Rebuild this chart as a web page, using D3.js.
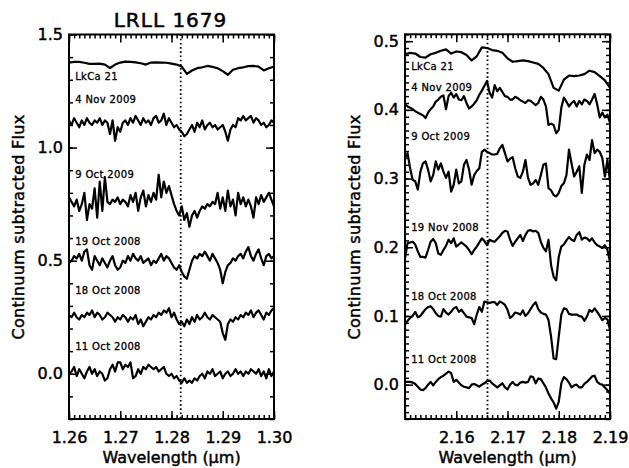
<!DOCTYPE html>
<html><head><meta charset="utf-8">
<script src="https://cdn.jsdelivr.net/npm/d3@7"></script>
<style>body{margin:0;background:#fff} svg{display:block}</style>
</head><body>
<svg id="c" width="629" height="468"></svg>
<script>
// ---------- data ----------
const chartTitle = "LRLL 1679";
const yTitle = "Continuum subtracted Flux";
const xTitle = "Wavelength (\u03bcm)";

// Left panel (J band, Pa beta)
const leftXDomain = [1.26, 1.30];
const leftYDomain = [-0.2, 1.5];
const leftXTicks = [1.26, 1.27, 1.28, 1.29, 1.30];
const leftYTicks = [0.0, 0.5, 1.0, 1.5];
const leftLine = 1.2818;
const leftNames = ["LkCa 21", "4 Nov 2009", "9 Oct 2009", "19 Oct 2008", "18 Oct 2008", "11 Oct 2008"];
const leftLabelY = [1.313, 1.211, 0.881, 0.586, 0.366, 0.119];

const leftLkCa21 = [1.376,1.379,1.379,1.375,1.370,1.370,1.371,1.367,1.352,1.367,1.376,1.380,1.379,1.377,1.373,1.367,1.376,1.377,1.376,1.375,1.371,1.367,1.358,1.326,1.341,1.351,1.355,1.361,1.357,1.351,1.338,1.322,1.344,1.351,1.355,1.360,1.361,1.358,1.341,1.351,1.358];
const left4Nov2009 = [1.12,1.10,1.13,1.11,1.09,1.12,1.10,1.13,1.11,1.10,1.12,1.11,1.13,1.10,1.12,1.11,1.06,1.12,1.03,1.09,1.07,1.11,1.12,1.10,1.13,1.11,1.14,1.12,1.10,1.13,1.11,1.12,1.10,1.13,1.14,1.11,1.12,1.15,1.10,1.13,1.11,1.09,1.10,1.08,1.07,1.05,1.06,1.08,1.10,1.07,1.11,1.09,1.12,1.08,1.10,1.11,1.09,1.10,1.08,1.09,1.10,1.07,1.03,1.08,1.10,1.09,1.13,1.12,1.14,1.12,1.13,1.14,1.11,1.13,1.12,1.10,1.11,1.09,1.10,1.12,1.11];
const left9Oct2009 = [0.78,0.76,0.74,0.77,0.72,0.75,0.80,0.68,0.75,0.73,0.82,0.69,0.85,0.72,0.87,0.76,0.75,0.77,0.76,0.78,0.75,0.77,0.76,0.74,0.79,0.76,0.80,0.72,0.78,0.81,0.74,0.79,0.76,0.80,0.77,0.88,0.78,0.85,0.80,0.83,0.79,0.75,0.72,0.70,0.74,0.68,0.71,0.65,0.70,0.72,0.69,0.72,0.74,0.73,0.75,0.74,0.76,0.75,0.80,0.73,0.78,0.72,0.81,0.74,0.77,0.70,0.80,0.75,0.78,0.74,0.77,0.74,0.69,0.78,0.75,0.79,0.76,0.78,0.80,0.77,0.74];
const left19Oct2008 = [0.49,0.50,0.52,0.51,0.53,0.50,0.54,0.55,0.48,0.46,0.52,0.50,0.48,0.51,0.49,0.47,0.50,0.52,0.48,0.46,0.47,0.50,0.49,0.52,0.50,0.53,0.51,0.50,0.52,0.49,0.50,0.51,0.48,0.50,0.49,0.51,0.53,0.50,0.52,0.51,0.49,0.47,0.46,0.48,0.45,0.43,0.42,0.46,0.50,0.52,0.51,0.53,0.52,0.54,0.52,0.50,0.53,0.51,0.49,0.46,0.40,0.45,0.48,0.49,0.51,0.50,0.52,0.53,0.51,0.54,0.56,0.52,0.50,0.53,0.55,0.51,0.48,0.52,0.53,0.51,0.52];
const left18Oct2008 = [0.26,0.25,0.27,0.25,0.24,0.26,0.25,0.27,0.26,0.28,0.25,0.27,0.26,0.24,0.25,0.27,0.26,0.25,0.23,0.25,0.24,0.26,0.25,0.23,0.25,0.24,0.26,0.22,0.24,0.21,0.23,0.25,0.24,0.26,0.25,0.27,0.26,0.28,0.27,0.29,0.25,0.27,0.24,0.22,0.23,0.21,0.24,0.22,0.25,0.23,0.26,0.24,0.25,0.27,0.25,0.24,0.26,0.25,0.24,0.23,0.18,0.15,0.22,0.24,0.23,0.25,0.24,0.26,0.25,0.27,0.26,0.28,0.25,0.27,0.28,0.26,0.24,0.27,0.26,0.28,0.29];
const left11Oct2008 = [0.00,0.01,0.03,-0.01,0.02,0.00,-0.02,0.01,0.03,0.00,0.02,-0.01,0.01,0.00,-0.03,-0.02,0.02,0.04,0.01,0.05,0.05,0.02,0.04,0.03,0.05,-0.02,-0.01,0.02,0.00,0.03,0.02,0.04,0.03,0.02,0.03,0.01,0.02,0.03,0.00,-0.01,0.00,-0.02,-0.01,-0.03,-0.04,-0.02,-0.04,-0.03,-0.04,-0.02,-0.03,-0.01,0.00,-0.02,0.01,0.00,0.02,-0.01,0.00,0.01,-0.02,0.00,0.01,-0.01,0.00,0.02,0.00,0.01,-0.01,0.01,0.00,0.02,0.01,0.00,0.02,-0.01,0.01,-0.02,0.02,-0.01,0.01];

// Right panel (K band, Br gamma)
const rightXDomain = [2.15, 2.19];
const rightYDomain = [-0.05, 0.51];
const rightXTicks = [2.16, 2.17, 2.18, 2.19];
const rightYTicks = [0.0, 0.1, 0.2, 0.3, 0.4, 0.5];
const rightLine = 2.1661;
const rightNames = ["LkCa 21", "4 Nov 2009", "9 Oct 2009", "19 Nov 2008", "18 Oct 2008", "11 Oct 2008"];
const rightLabelY = [0.463, 0.433, 0.361, 0.229, 0.128, 0.037];

const rightLkCa21 = [0.481,0.483,0.482,0.477,0.476,0.481,0.483,0.486,0.488,0.482,0.485,0.484,0.480,0.472,0.478,0.491,0.490,0.487,0.486,0.483,0.475,0.470,0.471,0.472,0.471,0.469,0.467,0.461,0.452,0.432,0.428,0.444,0.450,0.449,0.450,0.452,0.457,0.455,0.449,0.443,0.432];
const right4Nov2009 = [0.408,0.405,0.403,0.401,0.398,0.396,0.394,0.392,0.388,0.396,0.401,0.405,0.412,0.415,0.419,0.421,0.401,0.420,0.425,0.418,0.423,0.415,0.414,0.420,0.410,0.402,0.405,0.409,0.414,0.422,0.428,0.435,0.442,0.425,0.418,0.436,0.427,0.432,0.426,0.420,0.419,0.415,0.415,0.419,0.417,0.414,0.412,0.410,0.414,0.413,0.410,0.407,0.410,0.419,0.415,0.405,0.378,0.380,0.378,0.366,0.371,0.403,0.418,0.412,0.405,0.410,0.413,0.405,0.413,0.408,0.415,0.413,0.408,0.415,0.423,0.408,0.389,0.396,0.389,0.393,0.381];
const right9Oct2009 = [0.330,0.337,0.315,0.298,0.296,0.284,0.310,0.322,0.325,0.313,0.296,0.305,0.325,0.313,0.322,0.310,0.301,0.310,0.281,0.291,0.313,0.293,0.296,0.320,0.327,0.313,0.291,0.305,0.311,0.315,0.339,0.342,0.339,0.337,0.335,0.335,0.336,0.344,0.349,0.337,0.325,0.329,0.331,0.315,0.303,0.301,0.310,0.327,0.301,0.291,0.293,0.298,0.291,0.305,0.320,0.322,0.286,0.283,0.276,0.274,0.279,0.289,0.293,0.305,0.342,0.322,0.303,0.310,0.318,0.279,0.320,0.335,0.327,0.356,0.337,0.342,0.339,0.330,0.303,0.327,0.296];
const right19Nov2008 = [0.184,0.206,0.207,0.208,0.204,0.194,0.186,0.186,0.185,0.196,0.208,0.212,0.206,0.191,0.189,0.196,0.202,0.211,0.206,0.213,0.201,0.204,0.207,0.204,0.201,0.196,0.190,0.196,0.201,0.207,0.213,0.209,0.203,0.211,0.209,0.208,0.212,0.216,0.221,0.224,0.223,0.211,0.202,0.208,0.213,0.218,0.209,0.218,0.224,0.225,0.223,0.224,0.221,0.208,0.199,0.194,0.211,0.174,0.157,0.152,0.186,0.201,0.204,0.210,0.215,0.211,0.209,0.218,0.222,0.211,0.214,0.213,0.209,0.213,0.207,0.203,0.201,0.199,0.203,0.196,0.179];
const right18Oct2008 = [0.087,0.093,0.097,0.100,0.106,0.098,0.100,0.105,0.110,0.113,0.114,0.110,0.104,0.100,0.099,0.110,0.105,0.102,0.106,0.111,0.113,0.106,0.109,0.104,0.099,0.098,0.097,0.088,0.102,0.113,0.106,0.121,0.120,0.119,0.120,0.120,0.116,0.121,0.119,0.116,0.109,0.097,0.100,0.105,0.104,0.102,0.108,0.100,0.104,0.110,0.116,0.120,0.110,0.105,0.103,0.102,0.094,0.070,0.038,0.037,0.070,0.102,0.111,0.110,0.103,0.102,0.102,0.102,0.100,0.099,0.093,0.099,0.109,0.106,0.111,0.106,0.100,0.094,0.097,0.095,0.080];
const right11Oct2008 = [0.004,0.004,0.004,0.003,0.001,-0.003,-0.007,-0.008,-0.005,0.000,0.004,-0.001,0.004,0.008,0.011,0.013,0.016,0.019,0.017,0.004,0.007,0.003,-0.001,-0.003,-0.004,-0.005,0.000,0.001,-0.001,-0.003,0.000,0.002,0.005,0.006,0.002,-0.001,-0.004,-0.001,0.002,-0.004,-0.007,0.000,0.004,0.000,-0.001,0.003,0.004,0.003,0.004,0.012,0.011,0.002,0.009,0.008,0.002,-0.004,-0.013,-0.020,-0.026,-0.035,-0.025,0.002,0.011,0.008,0.003,-0.004,-0.001,0.000,-0.004,-0.004,0.001,0.004,0.008,0.012,0.013,0.004,0.001,0.000,-0.004,-0.008,-0.013];

// ---------- drawing ----------
const FONT = "'DejaVu Sans', sans-serif";
const svg = d3.select("#c");

function txt(sel, size, sw) {
  return sel.attr("font-family", FONT).attr("font-size", size).attr("fill", "#000")
    .attr("stroke", "#000").attr("stroke-width", sw).attr("paint-order", "stroke");
}

function drawPanel(o) {
  const x = d3.scaleLinear().domain(o.xDomain).range([o.x0, o.x1]);
  const y = d3.scaleLinear().domain(o.yDomain).range([o.yB, o.yT]);
  const g = svg.append("g");

  // spectra
  const line = d3.line();
  o.series.forEach(vals => {
    const n = vals.length;
    const step = (o.xDomain[1] - o.xDomain[0]) / (n - 1);
    g.append("path")
      .attr("d", line(vals.map((v, i) => [x(o.xDomain[0] + i * step), y(v)])))
      .attr("fill", "none").attr("stroke", "#000").attr("stroke-width", 2.2)
      .attr("stroke-linejoin", "round");
  });

  // dotted line
  g.append("line")
    .attr("x1", x(o.line)).attr("x2", x(o.line))
    .attr("y1", o.yT).attr("y2", o.yB)
    .attr("stroke", "#000").attr("stroke-width", 1.8)
    .attr("stroke-dasharray", "1.6,2.6");

  // labels
  o.names.forEach((nm, i) => {
    g.append("text").attr("x", x(o.labelX)).attr("y", y(o.labelY[i]))
      .attr("dy", "0.35em").attr("letter-spacing", 0.35)
      .call(txt, 10, 0.3).text(nm);
  });

  // axes
  const xMinor = d3.range(Math.round(o.xDomain[0] * 1000), Math.round(o.xDomain[1] * 1000) + 1).map(v => v / 1000);
  const yMinor = d3.range(Math.ceil(o.yDomain[0] / o.yMinorStep - 1e-6), Math.floor(o.yDomain[1] / o.yMinorStep + 1e-6) + 1).map(v => v * o.yMinorStep);

  function styleAxis(sel) {
    sel.select(".domain").remove();
    sel.selectAll("line").attr("stroke", "#000").attr("stroke-width", 1.5);
    sel.selectAll("text").call(txt, 16, 0.45);
  }

  const bottom = d3.axisBottom(x).tickValues(o.xTicks).tickFormat(d3.format(".2f")).tickSizeInner(-8).tickSizeOuter(0).tickPadding(13);
  g.append("g").attr("transform", `translate(0,${o.yB})`).call(bottom).call(styleAxis);
  g.append("g").attr("transform", `translate(0,${o.yB})`).call(d3.axisBottom(x).tickValues(xMinor).tickFormat("").tickSizeInner(-4).tickSizeOuter(0)).call(styleAxis);
  g.append("g").attr("transform", `translate(0,${o.yT})`).call(d3.axisTop(x).tickValues(o.xTicks).tickFormat("").tickSizeInner(-8).tickSizeOuter(0)).call(styleAxis);
  g.append("g").attr("transform", `translate(0,${o.yT})`).call(d3.axisTop(x).tickValues(xMinor).tickFormat("").tickSizeInner(-4).tickSizeOuter(0)).call(styleAxis);

  const left = d3.axisLeft(y).tickValues(o.yTicks).tickFormat(d3.format(".1f")).tickSizeInner(-8).tickSizeOuter(0).tickPadding(6);
  g.append("g").attr("transform", `translate(${o.x0},0)`).call(left).call(styleAxis);
  g.append("g").attr("transform", `translate(${o.x0},0)`).call(d3.axisLeft(y).tickValues(yMinor).tickFormat("").tickSizeInner(-4).tickSizeOuter(0)).call(styleAxis);
  g.append("g").attr("transform", `translate(${o.x1},0)`).call(d3.axisRight(y).tickValues(o.yTicks).tickFormat("").tickSizeInner(-8).tickSizeOuter(0)).call(styleAxis);
  g.append("g").attr("transform", `translate(${o.x1},0)`).call(d3.axisRight(y).tickValues(yMinor).tickFormat("").tickSizeInner(-4).tickSizeOuter(0)).call(styleAxis);

  // frame
  g.append("rect").attr("x", o.x0).attr("y", o.yT).attr("width", o.x1 - o.x0).attr("height", o.yB - o.yT)
    .attr("fill", "none").attr("stroke", "#000").attr("stroke-width", 2);

  // titles
  g.append("text").attr("x", (o.x0 + o.x1) / 2).attr("y", 463).attr("text-anchor", "middle")
    .call(txt, 16, 0.45).text(xTitle);
  g.append("text").attr("transform", `translate(${o.yTitleX},227) rotate(-90)`).attr("text-anchor", "middle")
    .attr("dy", "0.35em").attr("letter-spacing", 0.3)
    .call(txt, 16, 0.45).text(yTitle);
  if (o.title) {
    g.append("text").attr("x", (o.x0 + o.x1) / 2 - 1).attr("y", 27).attr("text-anchor", "middle")
      .attr("letter-spacing", 1).call(txt, 20, 0.5).text(o.title);
  }
}

drawPanel({
  x0: 69, x1: 274, yT: 34.5, yB: 419,
  xDomain: leftXDomain, yDomain: leftYDomain, xTicks: leftXTicks, yTicks: leftYTicks, yMinorStep: 0.1,
  line: leftLine, names: leftNames, labelY: leftLabelY, labelX: 1.2612,
  series: [leftLkCa21, left4Nov2009, left9Oct2009, left19Oct2008, left18Oct2008, left11Oct2008],
  yTitleX: 18, title: chartTitle
});
drawPanel({
  x0: 405, x1: 610, yT: 34.3, yB: 419,
  xDomain: rightXDomain, yDomain: rightYDomain, xTicks: rightXTicks, yTicks: rightYTicks, yMinorStep: 0.01,
  line: rightLine, names: rightNames, labelY: rightLabelY, labelX: 2.1512,
  series: [rightLkCa21, right4Nov2009, right9Oct2009, right19Nov2008, right18Oct2008, right11Oct2008],
  yTitleX: 354
});
</script>
</body></html>
